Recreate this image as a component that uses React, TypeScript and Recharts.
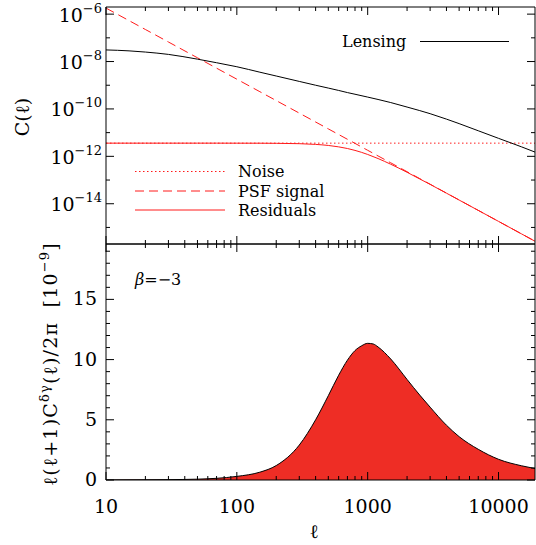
import React from "react";
import { ComposedChart, Line, Area, XAxis, YAxis } from "recharts";

const FONT = "DejaVu Serif";
const RED = "#ff1a1a";
const FILL_RED = "#ee2d25";

// multipole values shared by the top panel curves
const ELL = [
  10, 15, 20, 30, 50, 70, 100, 150, 200, 300, 400, 500, 600, 700, 800, 1000,
  1200, 1500, 2000, 2500, 3000, 4000, 5000, 7000, 10000, 15000, 19000,
];
const LENSING = [
  3.09e-8, 2.82e-8, 2.51e-8, 2.0e-8, 1.26e-8, 8.91e-9, 6.03e-9, 3.55e-9,
  2.45e-9, 1.45e-9, 1.0e-9, 7.59e-10, 6.03e-10, 4.9e-10, 4.17e-10, 3.16e-10,
  2.51e-10, 1.86e-10, 1.2e-10, 8.51e-11, 6.31e-11, 3.72e-11, 2.4e-11,
  1.2e-11, 5.75e-12, 2.51e-12, 1.51e-12,
];
const PSF_SIGNAL = [
  1.8e-6, 5.33e-7, 2.25e-7, 6.67e-8, 1.44e-8, 5.25e-9, 1.8e-9, 5.33e-10,
  2.25e-10, 6.67e-11, 2.81e-11, 1.44e-11, 8.33e-12, 5.25e-12, 3.52e-12,
  1.8e-12, 1.04e-12, 5.33e-13, 2.25e-13, 1.15e-13, 6.67e-14, 2.81e-14,
  1.44e-14, 5.25e-15, 1.8e-15, 5.33e-16, 2.62e-16,
];
const NOISE = [
  3.6e-12, 3.6e-12, 3.6e-12, 3.6e-12, 3.6e-12, 3.6e-12, 3.6e-12, 3.6e-12,
  3.6e-12, 3.6e-12, 3.6e-12, 3.6e-12, 3.6e-12, 3.6e-12, 3.6e-12, 3.6e-12,
  3.6e-12, 3.6e-12, 3.6e-12, 3.6e-12, 3.6e-12, 3.6e-12, 3.6e-12, 3.6e-12,
  3.6e-12, 3.6e-12, 3.6e-12,
];
const RESIDUALS = [
  3.6e-12, 3.6e-12, 3.6e-12, 3.6e-12, 3.6e-12, 3.6e-12, 3.59e-12, 3.58e-12,
  3.54e-12, 3.42e-12, 3.19e-12, 2.88e-12, 2.51e-12, 2.14e-12, 1.78e-12,
  1.2e-12, 8.07e-13, 4.64e-13, 2.12e-13, 1.11e-13, 6.55e-14, 2.79e-14,
  1.43e-14, 5.24e-15, 1.8e-15, 5.33e-16, 2.62e-16,
];

// bottom panel: l(l+1)C^dg/2pi in units of 1e-9
const CROSS_ELL = [
  10, 20, 30, 50, 70, 100, 150, 200, 300, 400, 500, 600, 700, 800, 900, 1000,
  1100, 1200, 1500, 2000, 2500, 3000, 4000, 5000, 7000, 10000, 15000, 19000,
];
const CROSS = [
  0.01, 0.02, 0.03, 0.07, 0.14, 0.3, 0.65, 1.2, 2.9, 5.0, 7.0, 8.7, 9.95,
  10.75, 11.15, 11.35, 11.3, 11.05, 10.05, 8.35, 7.05, 6.05, 4.55, 3.6, 2.55,
  1.72, 1.18, 0.95,
];

const X_DOMAIN = [10, 19000];
const X_LABELS = [10, 100, 1000, 10000];
const TOP_Y_DOMAIN = [2e-16, 2e-6];
const TOP_Y_EXPONENTS = [-15, -14, -13, -12, -11, -10, -9, -8, -7, -6];
const TOP_Y_LABELS = [-6, -8, -10, -12, -14];
const BOTTOM_Y_DOMAIN = [0, 19.6];
const BOTTOM_Y_LABELS = [0, 5, 10, 15];

const xTicks: number[] = [];
X_LABELS.forEach((d) => {
  for (let k = 1; k < 10; k++) if (k * d <= X_DOMAIN[1]) xTicks.push(k * d);
});
const topYTicks = TOP_Y_EXPONENTS.map((e) => Math.pow(10, e));
const bottomYTicks: number[] = [];
for (let v = 0; v <= 19; v++) bottomYTicks.push(v);

const topData = ELL.map((ell, i) => ({
  ell,
  lensing: LENSING[i],
  psf: PSF_SIGNAL[i],
  noise: NOISE[i],
  residuals: RESIDUALS[i],
}));
const bottomData = CROSS_ELL.map((ell, i) => ({ ell, cross: CROSS[i] }));

const XTick = ({ x, y, payload, dir, label }: any) => {
  const v = payload.value;
  const major = X_LABELS.some((m) => Math.abs(m - v) < 1e-6);
  const len = major ? 8 : 4;
  return (
    <g>
      <line x1={x} y1={y} x2={x} y2={y + dir * len} stroke="#000" strokeWidth={1} />
      {label && major && (
        <text x={x} y={y + 33} textAnchor="middle" fontSize={19} fontFamily={FONT} fill="#000">
          {Math.round(v)}
        </text>
      )}
    </g>
  );
};

const TopYTick = ({ x, y, payload, side }: any) => {
  const e = Math.round(Math.log10(payload.value));
  const major = TOP_Y_LABELS.includes(e);
  const len = major ? 8 : 4;
  const dir = side === "left" ? 1 : -1;
  return (
    <g>
      <line x1={x} y1={y} x2={x + dir * len} y2={y} stroke="#000" strokeWidth={1} />
      {side === "left" && major && (
        <text x={x - 4} y={y + 7.5} textAnchor="end" fontSize={19} fontFamily={FONT} fill="#000">
          10
          <tspan dy={-9} fontSize={13}>
            {"\u2212" + Math.abs(e)}
          </tspan>
        </text>
      )}
    </g>
  );
};

const BottomYTick = ({ x, y, payload, side }: any) => {
  const v = payload.value;
  const major = BOTTOM_Y_LABELS.includes(v);
  const len = major ? 8 : 4;
  const dir = side === "left" ? 1 : -1;
  return (
    <g>
      <line x1={x} y1={y} x2={x + dir * len} y2={y} stroke="#000" strokeWidth={1} />
      {side === "left" && major && (
        <text x={x - 9} y={y + 6} textAnchor="end" fontSize={19} fontFamily={FONT} fill="#000">
          {v}
        </text>
      )}
    </g>
  );
};

const axisCommon = {
  tickSize: 0,
  tickMargin: 0,
  interval: 0 as const,
  stroke: "#000",
  axisLine: { stroke: "#000", strokeWidth: 1 },
  allowDataOverflow: true,
};

const App = () => {
  return (
    <div style={{ position: "absolute", left: 0, top: 0, width: 536, height: 545, background: "#fff" }}>
      <div style={{ position: "absolute", left: 0, top: 0 }}>
        <ComposedChart width={536} height={250} data={topData} margin={{ top: 6, right: 0, bottom: 5, left: 0 }}>
          <XAxis
            xAxisId="b"
            dataKey="ell"
            type="number"
            scale="log"
            domain={X_DOMAIN}
            ticks={xTicks}
            height={1}
            orientation="bottom"
            tick={(p: any) => <XTick {...p} dir={-1} />}
            {...axisCommon}
          />
          <XAxis
            xAxisId="t"
            dataKey="ell"
            type="number"
            scale="log"
            domain={X_DOMAIN}
            ticks={xTicks}
            height={1}
            orientation="top"
            tick={(p: any) => <XTick {...p} dir={1} />}
            {...axisCommon}
          />
          <YAxis
            yAxisId="l"
            type="number"
            scale="log"
            domain={TOP_Y_DOMAIN}
            ticks={topYTicks}
            width={106}
            orientation="left"
            tick={(p: any) => <TopYTick {...p} side="left" />}
            {...axisCommon}
          />
          <YAxis
            yAxisId="r"
            type="number"
            scale="log"
            domain={TOP_Y_DOMAIN}
            ticks={topYTicks}
            width={1}
            orientation="right"
            tick={(p: any) => <TopYTick {...p} side="right" />}
            {...axisCommon}
          />
          <Line xAxisId="b" yAxisId="l" dataKey="noise" type="monotone" stroke={RED} strokeWidth={1} strokeDasharray="1.5 2.5" dot={false} isAnimationActive={false} />
          <Line xAxisId="b" yAxisId="l" dataKey="psf" type="monotone" stroke={RED} strokeWidth={1} strokeDasharray="9 5" dot={false} isAnimationActive={false} />
          <Line xAxisId="b" yAxisId="l" dataKey="residuals" type="monotone" stroke={RED} strokeWidth={1} dot={false} isAnimationActive={false} />
          <Line xAxisId="b" yAxisId="l" dataKey="lensing" type="monotone" stroke="#000" strokeWidth={1} dot={false} isAnimationActive={false} />
        </ComposedChart>
      </div>
      <div style={{ position: "absolute", left: 0, top: 0 }}>
        <ComposedChart width={536} height={545} data={bottomData} margin={{ top: 243, right: 0, bottom: 64, left: 0 }}>
          <XAxis
            xAxisId="b"
            dataKey="ell"
            type="number"
            scale="log"
            domain={X_DOMAIN}
            ticks={xTicks}
            height={1}
            orientation="bottom"
            tick={(p: any) => <XTick {...p} dir={-1} label />}
            {...axisCommon}
          />
          <XAxis
            xAxisId="t"
            dataKey="ell"
            type="number"
            scale="log"
            domain={X_DOMAIN}
            ticks={xTicks}
            height={1}
            orientation="top"
            tick={(p: any) => <XTick {...p} dir={1} />}
            {...axisCommon}
          />
          <YAxis
            yAxisId="l"
            type="number"
            domain={BOTTOM_Y_DOMAIN}
            ticks={bottomYTicks}
            width={106}
            orientation="left"
            tick={(p: any) => <BottomYTick {...p} side="left" />}
            {...axisCommon}
          />
          <YAxis
            yAxisId="r"
            type="number"
            domain={BOTTOM_Y_DOMAIN}
            ticks={bottomYTicks}
            width={1}
            orientation="right"
            tick={(p: any) => <BottomYTick {...p} side="right" />}
            {...axisCommon}
          />
          <Area
            xAxisId="b"
            yAxisId="l"
            dataKey="cross"
            type="monotone"
            fill={FILL_RED}
            fillOpacity={1}
            stroke="#000"
            strokeWidth={1}
            dot={false}
            isAnimationActive={false}
          />
        </ComposedChart>
      </div>
      <svg
        width={536}
        height={545}
        style={{ position: "absolute", left: 0, top: 0, pointerEvents: "none" }}
        fontFamily={FONT}
      >
        <text transform="translate(29,117) rotate(-90)" textAnchor="middle" fontSize={19}>
          C(ℓ)
        </text>
        <text transform="translate(57,364) rotate(-90)" textAnchor="middle" fontSize={19} letterSpacing={1.2}>
          ℓ(ℓ+1)C
          <tspan dy={-8} fontSize={13}>δγ</tspan>
          <tspan dy={8}>{"(ℓ)/2π\u00a0\u00a0[10"}</tspan>
          <tspan dy={-8} fontSize={13}>{"\u22129"}</tspan>
          <tspan dy={8}>]</tspan>
        </text>
        <text x={314} y={538} textAnchor="middle" fontSize={19}>
          ℓ
        </text>
        <text x={135} y={285} fontSize={16}>
          <tspan fontStyle="italic">β</tspan>
          {"=\u22123"}
        </text>
        <text x={342} y={47} fontSize={16}>
          Lensing
        </text>
        <line x1={420} y1={41.5} x2={509} y2={41.5} stroke="#000" />
        <line x1={135} y1={171.5} x2={225} y2={171.5} stroke={RED} strokeDasharray="1.5 2.5" />
        <line x1={135} y1={191} x2={225} y2={191} stroke={RED} strokeDasharray="9 5" />
        <line x1={135} y1={210} x2={225} y2={210} stroke={RED} />
        <text x={238} y={177} fontSize={16}>
          Noise
        </text>
        <text x={238} y={196.5} fontSize={16}>
          PSF signal
        </text>
        <text x={238} y={215.5} fontSize={16}>
          Residuals
        </text>
      </svg>
    </div>
  );
};

export default App;
